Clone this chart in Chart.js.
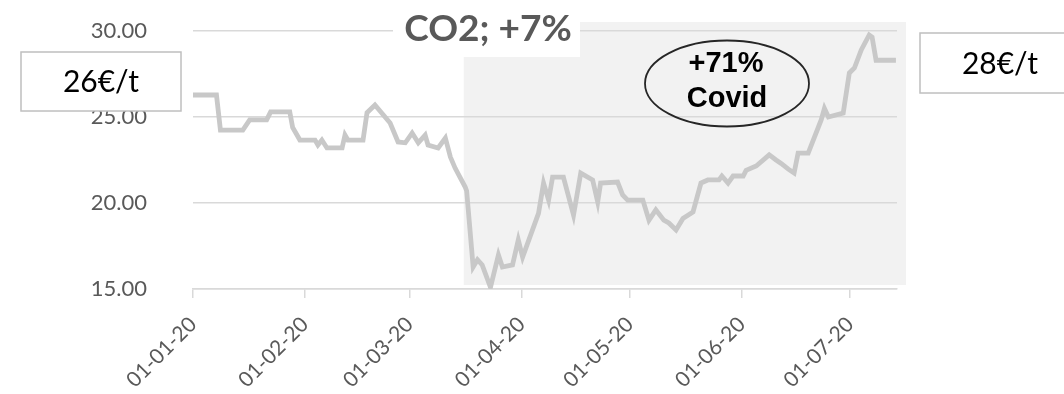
<!DOCTYPE html>
<html>
<head>
<meta charset="utf-8">
<script src="https://cdn.jsdelivr.net/npm/chart.js@4.4.0/dist/chart.umd.min.js"></script>
<style>
  html, body { margin: 0; padding: 0; background: #fff; }
  canvas { display: block; }
</style>
</head>
<body>
<canvas id="co2Chart" width="1064" height="394"></canvas>
<script>
// date axis ticks (day number counted from 01-01-2020)
const tickDays = [0, 31, 60, 91, 121, 152, 182];
const tickLabels = ["01-01-20", "01-02-20", "01-03-20", "01-04-20", "01-05-20", "01-06-20", "01-07-20"];

// CO2 price, EUR per tonne
const priceDays = [
  0, 6.5, 7.6, 13.8, 15.7, 20.4, 21.5, 26.8, 27.6, 29.6,
  33.8, 34.6, 35.7, 37.1, 41.3, 42.1, 42.9, 47.1, 48.2, 50.4,
  54.6, 56.8, 58.8, 60.7, 62.4, 64.3, 65.1, 67.9, 69.9, 71.3,
  72.6, 75.4, 75.8, 77.6, 78.8, 80.1, 82.4, 84.6, 85.7, 88.5,
  90.1, 91.3, 95.7, 97.1, 98.5, 99.6, 102.6, 105.4, 107.4, 110.7,
  112.1, 112.9, 117.6, 119.0, 120.4, 124.6, 126.3, 128.2, 130.4, 131.8,
  133.8, 135.7, 138.5, 140.7, 142.6, 145.7, 146.5, 148.2, 149.6, 152.4,
  153.2, 156.0, 159.6, 161.5, 162.9, 164.9, 166.5, 167.6, 170.4, 174.0,
  174.9, 176.0, 180.1, 181.8, 183.2, 185.1, 187.3, 188.1, 189.2, 194.7
];
const priceValues = [
  26.28, 26.28, 24.24, 24.24, 24.83, 24.83, 25.30, 25.30, 24.40, 23.66,
  23.66, 23.37, 23.66, 23.20, 23.20, 23.95, 23.66, 23.66, 25.25, 25.70,
  24.65, 23.55, 23.50, 24.07, 23.50, 23.95, 23.37, 23.20, 23.78, 22.67,
  22.03, 20.93, 20.70, 16.28, 16.70, 16.40, 15.10, 16.98, 16.28, 16.40,
  17.85, 16.86, 19.40, 21.16, 20.17, 21.50, 21.50, 19.30, 21.74, 21.34,
  20.06, 21.16, 21.22, 20.47, 20.17, 20.17, 19.00, 19.60, 19.00, 18.84,
  18.43, 19.10, 19.48, 21.16, 21.34, 21.34, 21.57, 21.16, 21.57, 21.57,
  21.90, 22.15, 22.80, 22.50, 22.30, 21.97, 21.74, 22.90, 22.90, 24.83,
  25.50, 25.00, 25.23, 27.56, 27.85, 28.90, 29.77, 29.65, 28.30, 28.30
];

const covidStartDay = 75; // shaded period starts mid March
const titleText = "CO2; +7%";
const startLabel = "26€/t";
const endLabel = "28€/t";
const covidLines = ["+71%", "Covid"];

const greyText = "#595959";
const gridGrey = "#d9d9d9";

// shaded covid band, title, price boxes and the covid ellipse
const co2Notes = {
  id: "co2Notes",
  beforeDraw(chart) {
    const { ctx, chartArea, scales } = chart;
    const x0 = scales.x.getPixelForValue(covidStartDay);
    const top = scales.y.getPixelForValue(30) - 9;
    const bottom = scales.y.getPixelForValue(15) - 4;
    ctx.save();
    ctx.fillStyle = "#f2f2f2";
    ctx.fillRect(x0, top, chartArea.right + 9 - x0, bottom - top);
    ctx.restore();
  },
  afterDraw(chart) {
    const ctx = chart.ctx;
    ctx.save();
    ctx.textAlign = "center";
    ctx.textBaseline = "middle";

    // title on a white patch
    ctx.fillStyle = "#ffffff";
    ctx.fillRect(393, 0, 187, 57);
    ctx.fillStyle = greyText;
    ctx.font = "bold 37px Lato";
    ctx.fillText(titleText, 488, 29);

    // start / end price boxes
    function priceBox(x, y, w, h, txt) {
      ctx.fillStyle = "#ffffff";
      ctx.fillRect(x, y, w, h);
      ctx.strokeStyle = "#bfbfbf";
      ctx.lineWidth = 1.5;
      ctx.strokeRect(x, y, w, h);
      ctx.fillStyle = "#000000";
      ctx.font = "30px Lato";
      ctx.fillText(txt, x + w / 2, y + h / 2 + 1);
    }
    priceBox(21, 52, 160, 59, startLabel);
    priceBox(920, 33, 160, 60, endLabel);

    // covid ellipse
    ctx.beginPath();
    ctx.ellipse(727, 83.5, 82, 43, 0, 0, Math.PI * 2);
    ctx.strokeStyle = "#262626";
    ctx.lineWidth = 1.8;
    ctx.stroke();
    ctx.fillStyle = "#000000";
    ctx.font = "bold 29px 'Liberation Sans'";
    ctx.fillText(covidLines[0], 726, 64);
    ctx.fillText(covidLines[1], 727, 99);
    ctx.restore();
  }
};

new Chart(document.getElementById("co2Chart"), {
  type: "line",
  data: {
    datasets: [{
      label: "CO2",
      data: priceDays.map((d, i) => ({ x: d, y: priceValues[i] })),
      borderColor: "#c8c8c8",
      borderWidth: 4.8,
      pointRadius: 0,
      tension: 0,
      fill: false
    }]
  },
  options: {
    responsive: false,
    animation: false,
    layout: { padding: { top: 31, right: 167, left: 0, bottom: 0 } },
    plugins: {
      legend: { display: false },
      tooltip: { enabled: false }
    },
    scales: {
      x: {
        type: "linear",
        min: 0,
        max: 195,
        afterFit: (scale) => { scale.height = 105; },
        afterBuildTicks: (scale) => {
          scale.ticks = tickDays.map((v) => ({ value: v }));
        },
        grid: {
          drawOnChartArea: false,
          drawTicks: true,
          tickLength: 9,
          color: gridGrey,
          lineWidth: 1.5
        },
        border: { color: gridGrey, width: 1.5 },
        ticks: {
          autoSkip: false,
          minRotation: 45,
          maxRotation: 45,
          padding: 14,
          color: greyText,
          font: { family: "Lato", size: 21 },
          callback: (v) => {
            const i = tickDays.indexOf(v);
            return i >= 0 ? tickLabels[i] : "";
          }
        }
      },
      y: {
        min: 15,
        max: 30,
        afterFit: (scale) => { scale.width = 193; },
        grid: {
          color: gridGrey,
          lineWidth: 1.5,
          // invisible tick marks keep the labels away from the plot
          drawTicks: true,
          tickLength: 43,
          tickColor: "rgba(0,0,0,0)"
        },
        border: { display: false },
        ticks: {
          stepSize: 5,
          padding: 3,
          color: greyText,
          font: { family: "Lato", size: 22 },
          callback: (v) => v.toFixed(2)
        }
      }
    }
  },
  plugins: [co2Notes]
});
</script>
</body>
</html>
